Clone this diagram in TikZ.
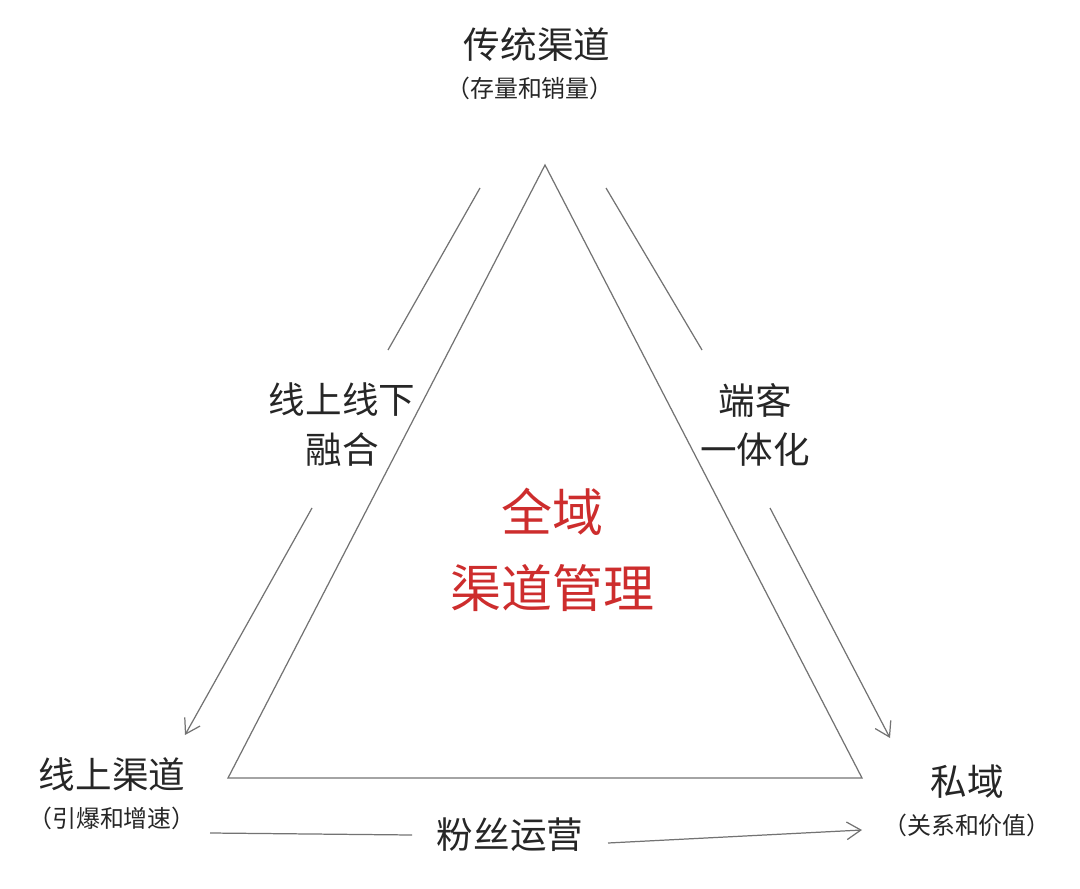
\documentclass[tikz,border=0pt]{standalone}
\usepackage{fontspec}
\newfontfamily\cjk{Noto Sans CJK SC}
\usetikzlibrary{arrows.meta}
\begin{document}
\begin{tikzpicture}[x=0.01cm,y=-0.01cm,
  lbl/.style={font=\cjk\fontsize{10.4}{13}\selectfont,text=black!85,inner sep=0},
  sub/.style={font=\cjk\fontsize{6.8}{9}\selectfont,text=black!85,inner sep=0},
  big/.style={font=\cjk\fontsize{14.5}{20}\selectfont,text={rgb,255:red,205;green,45;blue,45},inner sep=0},
  edge/.style={draw=black!55,line width=0.35pt},
  arr/.style={edge,-{Straight Barb[length=4pt,width=5pt]}}]
\useasboundingbox (0,0) rectangle (1080,889);
\coordinate (T) at (545,165);
\coordinate (L) at (228,778);
\coordinate (R) at (862,778);
\draw[edge] (T) -- (L) -- (R) -- cycle;
\node[lbl] (n1) at (537,45) {传统渠道};
\node[sub] (n1s) at (530,88) {（存量和销量）};
\node[lbl] (n2) at (342,400) {线上线下};
\node[lbl] (n2b) at (342,450) {融合};
\node[lbl] (n3) at (755,400) {端客};
\node[lbl] (n3b) at (755,450) {一体化};
\node[big] (c1) at (552,512) {全域};
\node[big] (c2) at (552,588) {渠道管理};
\node[lbl] (n4) at (112,775) {线上渠道};
\node[sub] (n4s) at (112,818) {（引爆和增速）};
\node[lbl] (n5) at (967,782) {私域};
\node[sub] (n5s) at (967,825) {（关系和价值）};
\node[lbl] (n6) at (510,835) {粉丝运营};
\coordinate (a1) at (480,188); \coordinate (a2) at (388,350);
\coordinate (a3) at (312,508); \coordinate (a4) at (185,735);
\coordinate (b1) at (606,188); \coordinate (b2) at (702,350);
\coordinate (b3) at (770,508); \coordinate (b4) at (890,738);
\coordinate (c3) at (210,833); \coordinate (c4) at (412,835);
\coordinate (c5) at (608,843); \coordinate (c6) at (862,830);
\draw[edge] (a1) -- (a2);
\draw[arr] (a3) -- (a4);
\draw[edge] (b1) -- (b2);
\draw[arr] (b3) -- (b4);
\draw[edge] (c3) -- (c4);
\draw[arr] (c5) -- (c6);
\end{tikzpicture}
\end{document}
